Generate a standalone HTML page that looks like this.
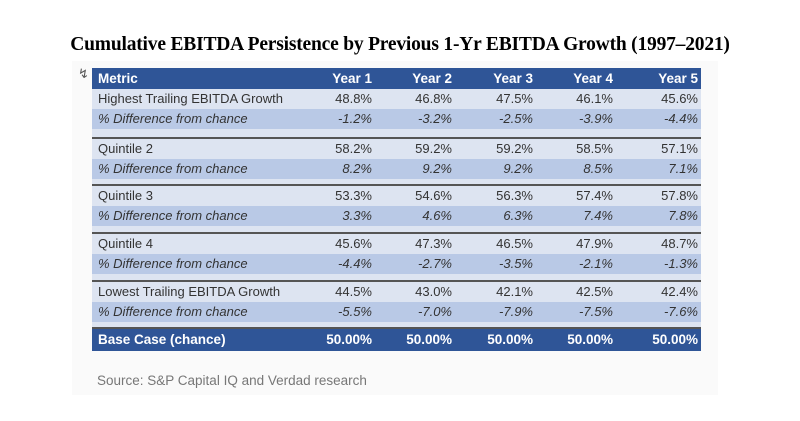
<!DOCTYPE html>
<html><head><meta charset="utf-8"><style>
body{margin:0;width:800px;height:421px;background:#fff;position:relative;overflow:hidden;font-family:"Liberation Sans",sans-serif}
#title{position:absolute;left:0;width:800px;top:34px;text-align:center;font-family:"Liberation Serif",serif;font-weight:bold;font-size:19.5px;color:#000;letter-spacing:-0.2px}
#panel{position:absolute;left:72px;top:61px;width:646px;height:334px;background:#fafafa}
.r{position:absolute;left:92px;width:609px;font-size:13px;color:#333}
.c{position:absolute;top:0;text-align:right;width:70px}
.lab{position:absolute;left:6px;top:0}
.sep{position:absolute;left:92px;width:609px;height:2px;background:#555}
#src{position:absolute;left:97px;top:373px;font-size:13.5px;color:#777}
</style></head><body>
<div id="title">Cumulative EBITDA Persistence by Previous 1-Yr EBITDA Growth (1997–2021)</div>
<div id="panel"></div>
<div style="position:absolute;left:78px;top:66px;font-size:13px;color:#555">↯</div>
<div id="tbl"></div>
<div id="src">Source: S&amp;P Capital IQ and Verdad research</div>
<script>
const years=["Year 1","Year 2","Year 3","Year 4","Year 5"];
const groups=["Highest Trailing EBITDA Growth","Quintile 2","Quintile 3","Quintile 4","Lowest Trailing EBITDA Growth"];
const values=[[48.8,46.8,47.5,46.1,45.6],[58.2,59.2,59.2,58.5,57.1],[53.3,54.6,56.3,57.4,57.8],[45.6,47.3,46.5,47.9,48.7],[44.5,43.0,42.1,42.5,42.4]];
const diffs=[[-1.2,-3.2,-2.5,-3.9,-4.4],[8.2,9.2,9.2,8.5,7.1],[3.3,4.6,6.3,7.4,7.8],[-4.4,-2.7,-3.5,-2.1,-1.3],[-5.5,-7.0,-7.9,-7.5,-7.6]];
const baseCase=[50,50,50,50,50];
const colRight=[372,452,533,613,698];
const t=document.getElementById('tbl');
function row(top,h,bg,label,cells,style,name){
  const r=document.createElement('div');r.className='r';
  
  
  r.style.top=top+'px';r.style.height=h+'px';r.style.lineHeight=h+'px';r.style.background=bg;
  Object.assign(r.style,style||{});
  const l=document.createElement('div');l.className='lab';l.textContent=label;
  
  
  r.appendChild(l);
  cells.forEach((v,i)=>{const c=document.createElement('div');c.className='c';c.textContent=v;
    c.style.left=(colRight[i]-92-70)+'px';
    
    
    r.appendChild(c);});
  t.appendChild(r);
}
row(68,21,'#2f5597','Metric',years,{color:'#fff',fontWeight:'bold',fontSize:'13.5px'},'header-row');
const starts=[89,139,186,234,282];
groups.forEach((g,k)=>{
  const s=starts[k];
  if(k>0){const sp=document.createElement('div');sp.className='sep';sp.style.top=(s-2)+'px';
    
    
    t.appendChild(sp);}
  row(s,20,'#dde4f1',g,values[k].map(v=>v.toFixed(1)+'%'),null,'value-row');
  row(s+20,20,'#b9c9e6','% Difference from chance',diffs[k].map(v=>v.toFixed(1)+'%'),{fontStyle:'italic'},'diff-row');
  const end=k<4?starts[k+1]-2:327;
  const f=document.createElement('div');f.className='r';f.style.top=(s+40)+'px';f.style.height=(end-s-40)+'px';f.style.background='#dde4f1';
  
  
  t.appendChild(f);
});
const sp=document.createElement('div');sp.className='sep';sp.style.top='327px';


t.appendChild(sp);
row(329,22,'#2f5597','Base Case (chance)',baseCase.map(v=>v.toFixed(2)+'%'),{color:'#fff',fontWeight:'bold',fontSize:'13.5px'},'base-case-row');
</script>
</body></html>
